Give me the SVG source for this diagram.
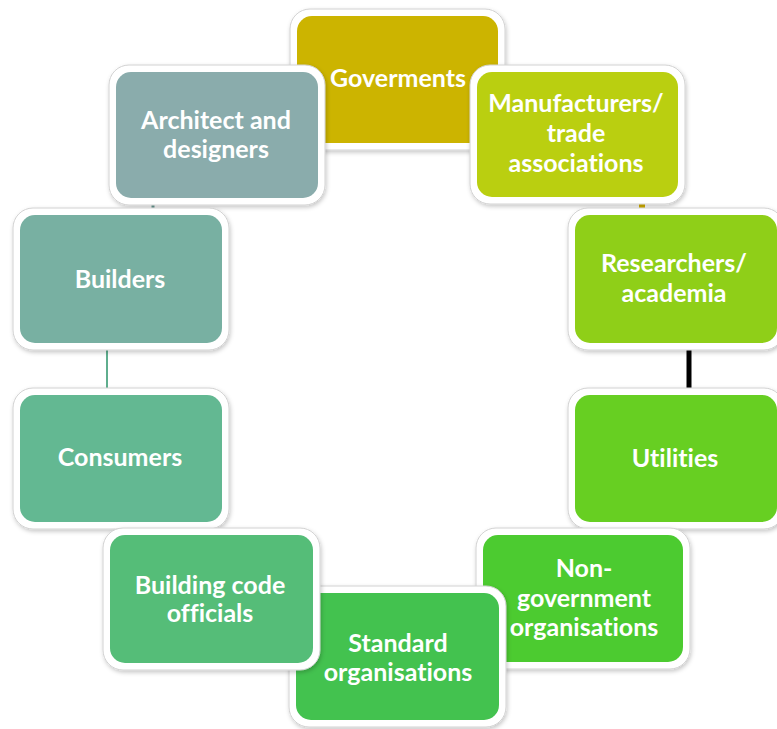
<svg xmlns="http://www.w3.org/2000/svg" width="777" height="729" viewBox="0 0 777 729">
<defs>
<filter id="sh" x="-10%" y="-10%" width="120%" height="125%">
<feDropShadow dx="1" dy="2" stdDeviation="2" flood-color="#000" flood-opacity="0.22"/>
</filter>
<style>
.o{fill:#fff;stroke:#d2d2d2;stroke-width:1;filter:url(#sh)}
.t{font-family:Lato,"Open Sans","Liberation Sans",sans-serif;font-weight:bold;font-size:25px;fill:#fff;text-anchor:middle;font-variant-ligatures:none}
.c{fill:none}
</style>
</defs>
<rect width="777" height="729" fill="#fff"/>
<g id="goverments">
<rect class="o" x="290" y="9" width="215" height="141" rx="20"/>
<rect x="297" y="16" width="201" height="127" rx="15" fill="#CCB400"/>
<text class="t" x="398" y="87">Goverments</text>
</g>
<g id="connectors">
<line class="c" x1="316" y1="88" x2="322" y2="80" stroke="#9fb6b6" stroke-width="2"/>
<line class="c" x1="153" y1="198" x2="153" y2="215" stroke="#6f9f98" stroke-width="3"/>
<line class="c" x1="107" y1="343" x2="107" y2="395" stroke="#5fae8e" stroke-width="2"/>
<line class="c" x1="151" y1="522" x2="151" y2="535" stroke="#4e9a6a" stroke-width="3"/>
<line class="c" x1="642" y1="197" x2="642" y2="215" stroke="#d4b000" stroke-width="6"/>
<line class="c" x1="689" y1="343" x2="689" y2="395" stroke="#000" stroke-width="5"/>
<line class="c" x1="643" y1="522" x2="643" y2="535" stroke="#6fd040" stroke-width="3"/>
</g>
<g id="architect">
<rect class="o" x="109" y="65" width="216" height="140" rx="20"/>
<rect x="116" y="72" width="202" height="126" rx="15" fill="#8AACAC"/>
<text class="t" x="216" y="129">Architect and</text>
<text class="t" x="216" y="158">designers</text>
</g>
<g id="manufacturers">
<rect class="o" x="470" y="65" width="215" height="139" rx="20"/>
<rect x="477" y="72" width="201" height="125" rx="15" fill="#BACF10"/>
<text class="t" x="576" y="112">Manufacturers/</text>
<text class="t" x="576" y="142">trade</text>
<text class="t" x="576" y="172">associations</text>
</g>
<g id="builders">
<rect class="o" x="13" y="208" width="216" height="142" rx="20"/>
<rect x="20" y="215" width="202" height="128" rx="15" fill="#78B0A2"/>
<text class="t" x="120" y="288">Builders</text>
</g>
<g id="consumers">
<rect class="o" x="13" y="388" width="216" height="141" rx="20"/>
<rect x="20" y="395" width="202" height="127" rx="15" fill="#63B892"/>
<text class="t" x="120" y="466">Consumers</text>
</g>
<g id="researchers">
<rect class="o" x="568" y="208" width="216" height="142" rx="20"/>
<rect x="575" y="215" width="202" height="128" rx="15" fill="#8FCF18"/>
<text class="t" x="674" y="272">Researchers/</text>
<text class="t" x="674" y="302">academia</text>
</g>
<g id="utilities">
<rect class="o" x="568" y="388" width="216" height="141" rx="20"/>
<rect x="575" y="395" width="202" height="127" rx="15" fill="#67CF22"/>
<text class="t" x="675" y="467">Utilities</text>
</g>
<g id="non-government">
<rect class="o" x="476" y="528" width="214" height="141" rx="20"/>
<rect x="483" y="535" width="200" height="127" rx="15" fill="#4CCB30"/>
<text class="t" x="584" y="577">Non-</text>
<text class="t" x="584" y="607">government</text>
<text class="t" x="584" y="636">organisations</text>
</g>
<g id="standard">
<rect class="o" x="289" y="586" width="217" height="141" rx="20"/>
<rect x="296" y="593" width="203" height="127" rx="15" fill="#43C24F"/>
<text class="t" x="398" y="652">Standard</text>
<text class="t" x="398" y="681">organisations</text>
</g>
<g id="building-code">
<rect class="o" x="103" y="528" width="217" height="142" rx="20"/>
<rect x="110" y="535" width="203" height="128" rx="15" fill="#55BD78"/>
<text class="t" x="210" y="594">Building code</text>
<text class="t" x="210" y="622">officials</text>
</g>
</svg>
